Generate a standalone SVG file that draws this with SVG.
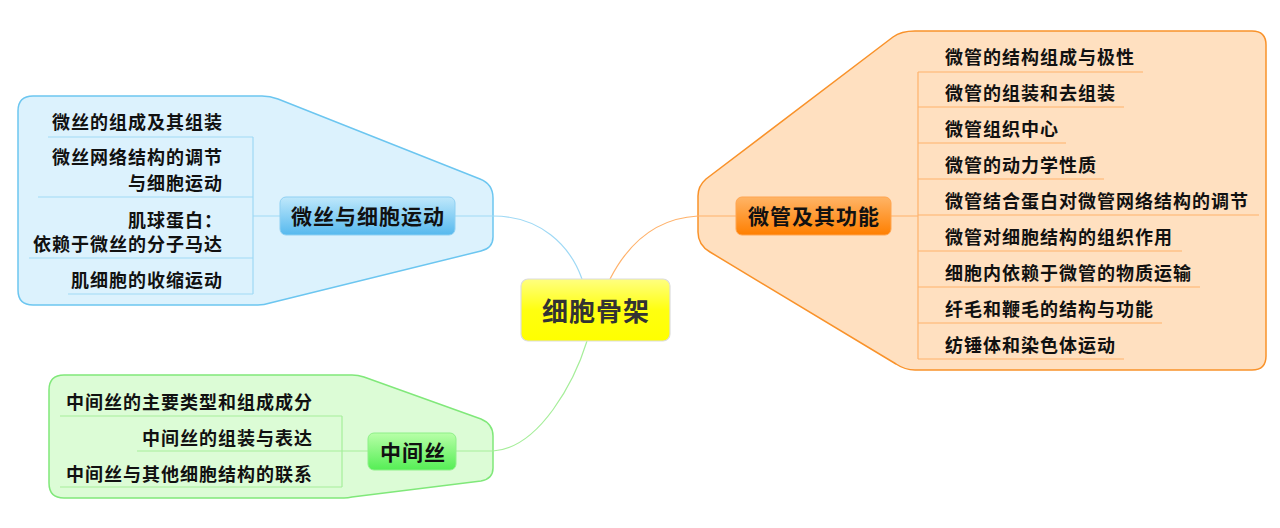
<svg xmlns="http://www.w3.org/2000/svg" width="1280" height="528" viewBox="0 0 1280 528">
<defs>
<linearGradient id="gC" x1="0" y1="0" x2="0" y2="1"><stop offset="0" stop-color="#ffff80"/><stop offset="0.5" stop-color="#ffff10"/><stop offset="1" stop-color="#ffff00"/></linearGradient>
<linearGradient id="gB" x1="0" y1="0" x2="0" y2="1"><stop offset="0" stop-color="#bfe8fb"/><stop offset="1" stop-color="#56b9ee"/></linearGradient>
<linearGradient id="gO" x1="0" y1="0" x2="0" y2="1"><stop offset="0" stop-color="#ffb466"/><stop offset="1" stop-color="#ff7f00"/></linearGradient>
<linearGradient id="gG" x1="0" y1="0" x2="0" y2="1"><stop offset="0" stop-color="#b8ffa8"/><stop offset="1" stop-color="#55ee55"/></linearGradient>
</defs>
<style>
text{font-family:"Noto Sans CJK SC","Noto Sans CJK JP",sans-serif;font-weight:700;fill:#111}
.it{font-size:18px;letter-spacing:1px}
.nd{font-size:21px;letter-spacing:1px;text-anchor:middle}
.r{text-anchor:end}
.bl{stroke:#9fd9f5;stroke-width:1.2;fill:none}
.ol{stroke:#ffb26b;stroke-width:1.2;fill:none}
.gl{stroke:#a6ee9a;stroke-width:1.2;fill:none}
</style>
<rect width="1280" height="528" fill="#ffffff"/>
<g id="boundaries">
<path d="M33,96 H262 Q270,96 278,99 L480,179 Q493,184 493,198 V237 Q493,248 481,251 L270,303 Q264,305 258,305 H33 Q18,305 18,290 V111 Q18,96 33,96 Z" fill="#dcf2fd" stroke="#6cc6f0" stroke-width="1.5"/>
<path d="M915,31 H1252 Q1266,31 1266,45 V356 Q1266,370 1252,370 H915 Q905,370 896,364 L710,252 Q698,245 698,232 V196 Q698,186 706,179 L893,37 Q901,31 915,31 Z" fill="#ffe0c0" stroke="#f9922a" stroke-width="1.5"/>
<path d="M64,375 H352 Q358,375 364,377 L481,419 Q493,424 493,436 V468 Q493,479 481,481 L352,497 Q348,498 344,498 H64 Q49,498 49,483 V390 Q49,375 64,375 Z" fill="#dcfcd6" stroke="#80e87a" stroke-width="1.5"/>
</g>
<g id="connectors">
<path class="bl" d="M455,216 L493,216 C540,216 570,245 582,279"/>
<path class="ol" d="M610,279 C630,240 660,218 698,216 L736,216"/>
<path class="gl" d="M456,451 L493,451 C540,448 575,380 587,341"/>
<path class="bl" d="M253,137 V294 M253,216 H280"/>
<path class="ol" d="M918,72 V359 M891,216 H918"/>
<path class="gl" d="M342,416 V487 M342,451 H368"/>
</g>
<g id="central">
<rect x="521" y="279" width="149" height="62" rx="7" fill="url(#gC)" stroke="#dcdcdc" stroke-width="1.2"/>
<text x="596" y="321" style="font-size:26px;letter-spacing:1px;text-anchor:middle;fill:#333">细胞骨架</text>
</g>
<g id="node-weisi">
<rect x="280" y="197" width="175" height="38" rx="6" fill="url(#gB)" stroke="#8fd0f2" stroke-width="1"/>
<text class="nd" x="368" y="224">微丝与细胞运动</text>
</g>
<g id="node-weiguan">
<rect x="736" y="197" width="155" height="38" rx="6" fill="url(#gO)" stroke="#ffa550" stroke-width="1"/>
<text class="nd" x="814" y="224">微管及其功能</text>
</g>
<g id="node-zhongjiansi">
<rect x="368" y="433" width="88" height="37" rx="6" fill="url(#gG)" stroke="#8ef088" stroke-width="1"/>
<text class="nd" x="413" y="460">中间丝</text>
</g>
<g id="b1"><text class="it r" x="223" y="129">微丝的组成及其组装</text><path class="bl" d="M48,137 H253"/></g>
<g id="b2"><text class="it r" x="223" y="164">微丝网络结构的调节</text><text class="it r" x="223" y="190">与细胞运动</text><path class="bl" d="M38,197 H253"/></g>
<g id="b3"><text class="it r" x="223" y="227">肌球蛋白：</text><text class="it r" x="223" y="251">依赖于微丝的分子马达</text><path class="bl" d="M29,258 H253"/></g>
<g id="b4"><text class="it r" x="223" y="287">肌细胞的收缩运动</text><path class="bl" d="M68,294 H253"/></g>
<g id="o1"><text class="it" x="945" y="64">微管的结构组成与极性</text><path class="ol" d="M918,72 H1143"/></g>
<g id="o2"><text class="it" x="945" y="100">微管的组装和去组装</text><path class="ol" d="M918,107 H1124"/></g>
<g id="o3"><text class="it" x="945" y="136">微管组织中心</text><path class="ol" d="M918,143 H1066"/></g>
<g id="o4"><text class="it" x="945" y="172">微管的动力学性质</text><path class="ol" d="M918,179 H1104"/></g>
<g id="o5"><text class="it" x="945" y="208">微管结合蛋白对微管网络结构的调节</text><path class="ol" d="M918,215 H1259"/></g>
<g id="o6"><text class="it" x="945" y="244">微管对细胞结构的组织作用</text><path class="ol" d="M918,251 H1182"/></g>
<g id="o7"><text class="it" x="945" y="280">细胞内依赖于微管的物质运输</text><path class="ol" d="M918,287 H1200"/></g>
<g id="o8"><text class="it" x="945" y="316">纤毛和鞭毛的结构与功能</text><path class="ol" d="M918,323 H1162"/></g>
<g id="o9"><text class="it" x="945" y="352">纺锤体和染色体运动</text><path class="ol" d="M918,359 H1124"/></g>
<g id="g1"><text class="it r" x="313" y="409">中间丝的主要类型和组成成分</text><path class="gl" d="M60,416 H342"/></g>
<g id="g2"><text class="it r" x="313" y="445">中间丝的组装与表达</text><path class="gl" d="M137,451 H342"/></g>
<g id="g3"><text class="it r" x="313" y="481">中间丝与其他细胞结构的联系</text><path class="gl" d="M60,487 H342"/></g>
</svg>
